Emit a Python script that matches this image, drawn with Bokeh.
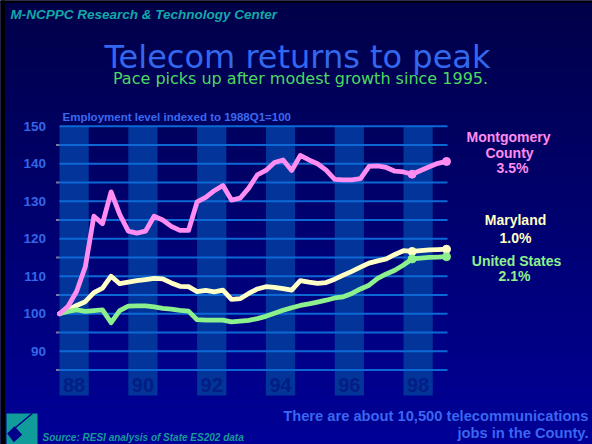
from bokeh.plotting import figure
from bokeh.models import Range1d, Label
from bokeh.embed import file_html
from bokeh.resources import INLINE
from bokeh.core.properties import value

# ---------------- data (index = quarters since 1988Q1) ----------------
quarters = [0, 1, 2, 3, 4, 5, 6, 7, 8, 9, 10, 11, 12, 13, 14, 15, 16, 17, 18, 19, 20, 21, 22,
            23, 24, 25, 26, 27, 28, 29, 30, 31, 32, 33, 34, 35, 36, 37, 38, 39, 40, 41, 42, 43, 44, 45]
montgomery = [100, 102, 106, 112.5, 126, 124, 132.5, 126.5, 122, 121.5, 122, 126, 125, 123.3,
              122.2, 122.2, 129.8, 131, 132.8, 134.2, 130.3, 130.8, 133.5, 137, 138.2, 140.3,
              141, 138.2, 142.2, 141, 140, 138.3, 135.8, 135.7, 135.7, 136, 139.3, 139.4, 139,
              138, 137.8, 137.2, 138.2, 139.2, 140.1, 140.6]
maryland = [100, 101, 102.2, 103.2, 105.6, 106.8, 110, 108, 108.4, 108.8, 109.1, 109.4, 109.3,
            108.2, 107.3, 107.2, 105.9, 106.2, 105.8, 106.3, 103.8, 104, 105.4, 106.6, 107.2,
            107, 106.7, 106.3, 108.8, 108.4, 108.1, 108.3, 109.2, 110.3, 111.3, 112.4, 113.5,
            114.1, 114.6, 115.8, 116.8, 116.6, 116.8, 117, 117.1, 117.2]
united_states = [100, 100.6, 101, 100.6, 100.8, 101, 97.6, 100.8, 102, 102.1, 102.1, 101.8,
                 101.4, 101.2, 100.9, 100.7, 98.4, 98.3, 98.3, 98.3, 97.8, 98, 98.2, 98.7, 99.3,
                 100.1, 100.9, 101.6, 102.2, 102.6, 103.1, 103.6, 104.2, 104.5, 105.4, 106.6,
                 107.6, 109.4, 110.6, 111.6, 113.0, 114.6, 114.8, 115, 115.1, 115.2]
marker_idx = [41, 45]

year_labels = ["88", "90", "92", "94", "96", "98"]
year_start_q = [0, 8, 16, 24, 32, 40]
y_tick_values = [90, 100, 110, 120, 130, 140, 150]
y_tick_labels = ["90", "100", "110", "120", "130", "140", "150"]
grid_values = [85, 90, 95, 100, 105, 110, 115, 120, 125, 130, 135, 140, 145, 150]
minor_tick_values = [85, 95, 105, 115, 125, 135, 145]

# ---------------- layout helpers (page pixel -> data) ----------------
X0_PX, Q_PX = 59.0, 8.6        # page x of 1988Q1, px per quarter
Y150_PX, V_PX = 125.7, 3.75    # page y of value 150, px per index point
W, H = 592, 444


def px2x(px):
    return (px - X0_PX) / Q_PX


def py2y(py):
    return 150 - (py - Y150_PX) / V_PX


p = figure(width=W, height=H, output_backend="svg", toolbar_location=None,
           x_range=Range1d(px2x(0), px2x(W)), y_range=Range1d(py2y(H), py2y(0)),
           x_axis_type=None, y_axis_type=None, min_border=0,
           background_fill_color="#000070", border_fill_color="#000070",
           outline_line_color=None)
p.xgrid.visible = False
p.ygrid.visible = False

# background vertical gradient
n = 60
ys = [py2y(H * k / n) for k in range(n + 1)]
cols = []
for k in range(n):
    t = (k + 0.5) / n
    b = int(round(0x48 + (0x98 - 0x48) * t))
    cols.append("#0000%02x" % b)
p.quad(left=px2x(-2), right=px2x(W + 2), top=ys[:-1], bottom=ys[1:], fill_color=cols,
       line_color=None)
# black slide edges
p.quad(left=px2x(-2), right=px2x(W + 2), top=py2y(-2), bottom=py2y(2.3), fill_color="black",
       line_color=None)
p.quad(left=px2x(-2), right=px2x(4.5), top=py2y(-2), bottom=py2y(H + 2), fill_color="black",
       line_color=None)

# year bands
band_bottom = py2y(395)
p.quad(left=year_start_q, right=[q + 3.4 for q in year_start_q], top=150, bottom=band_bottom,
       fill_color="#023499", line_color=None)
p.text(x=[q + 1.7 for q in year_start_q], y=py2y(384.5), text=year_labels,
       text_font=value("Liberation Sans"), text_font_style="bold", text_font_size="20px",
       text_color="#021d84", text_align="center", text_baseline="middle")

# grid lines
grid_end = px2x(447)
p.segment(x0=0, x1=grid_end, y0=grid_values, y1=grid_values, line_color="#0d68d6",
          line_width=2)
p.segment(x0=px2x(55.5), x1=0, y0=minor_tick_values, y1=minor_tick_values,
          line_color="#7878a8", line_width=2)

# y tick labels
p.text(x=px2x(45.5), y=y_tick_values, text=y_tick_labels, text_font=value("Liberation Sans"),
       text_font_style="bold", text_font_size="13.5px", text_color="#3366e8",
       text_align="right", text_baseline="middle")

# series lines
series = [(maryland, "#ffffc6"), (united_states, "#8cf08c"), (montgomery, "#ff8cf0")]
for vals, col in series:
    p.line(quarters, vals, line_color=col, line_width=4.8, line_join="round", line_cap="round")
    p.scatter([quarters[i] for i in marker_idx], [vals[i] for i in marker_idx], size=8,
              fill_color=col, line_color=col)


def label(px, py, text, color, size, style="bold", font="Liberation Sans", align="left"):
    # py is the vertical centre of the capital letters
    p.add_layout(Label(x=px2x(px), y=py2y(py), text=text, text_color=color,
                       text_font=font, text_font_size=size, text_font_style=style,
                       text_align=align, text_baseline="middle"))


# header / titles
label(10, 13.5, "M-NCPPC Research & Technology Center", "#14a8a8", "13.5px", "bold italic")
label(297, 56, "Telecom returns to peak", "#3368ee", "32px", "normal", "DejaVu Sans", "center")
label(300, 78, "Pace picks up after modest growth since 1995.", "#4fd860", "16px", "normal",
      "DejaVu Sans", "center")
label(62, 116, "Employment level indexed to 1988Q1=100", "#3a6af0", "11.5px")

# series labels
label(508, 136.7, "Montgomery", "#ff8cf0", "14px", align="center")
label(509, 152.7, "County", "#ff8cf0", "14px", align="center")
label(512, 167.7, "3.5%", "#ff8cf0", "14px", align="center")
label(515, 219.3, "Maryland", "#ffffc6", "14px", align="center")
label(515, 237.7, "1.0%", "#ffffc6", "14px", align="center")
label(516, 260, "United States", "#8cf08c", "14px", align="center")
label(514, 275.7, "2.1%", "#8cf08c", "14px", align="center")

# footer
label(588, 415.7, "There are about 10,500 telecommunications", "#3a66f0", "14.7px", align="right")
label(588, 432.7, "jobs in the County.", "#3a66f0", "14.7px", align="right")
label(42, 436.7, "Source: RESI analysis of State ES202 data", "#169b98", "10px", "bold italic")

# logo
p.quad(left=px2x(6), right=px2x(37), top=py2y(413), bottom=py2y(446), fill_color="#119c9c",
       line_color=None)
p.patch(x=[px2x(6.7), px2x(14), px2x(21.7), px2x(13.3)],
        y=[py2y(433), py2y(425.7), py2y(434.3), py2y(441.7)], fill_color="#00008a",
        line_color=None)
p.line(x=[px2x(15), px2x(31.7)], y=[py2y(427), py2y(413)], line_color="#00008a", line_width=1.5)

open("out.html", "w").write(file_html(p, INLINE))
